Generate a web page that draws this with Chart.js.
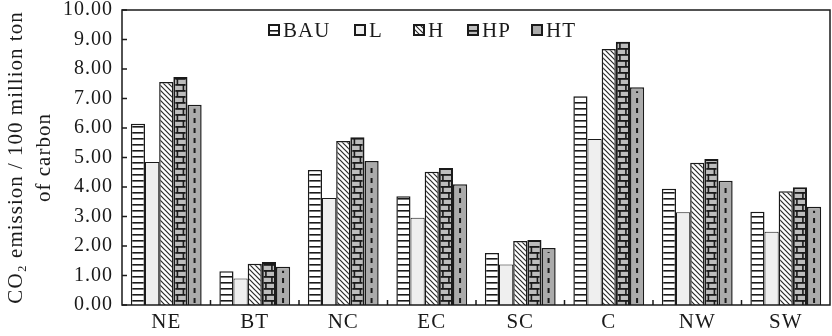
<!DOCTYPE html>
<html>
<head>
<meta charset="utf-8">
<script src="https://cdn.jsdelivr.net/npm/chart.js@4"></script>
<style>
  html, body { margin: 0; padding: 0; background: #fff; }
  #wrap { width: 832px; height: 336px; }
</style>
</head>
<body>
<div id="wrap"><canvas id="co2Chart"></canvas></div>
<script>
const regions = ["NE", "BT", "NC", "EC", "SC", "C", "NW", "SW"];
const bauValues = [6.14, 1.14, 4.58, 3.69, 1.76, 7.08, 3.94, 3.16];
const lValues   = [4.85, 0.90, 3.63, 2.96, 1.37, 5.63, 3.14, 2.48];
const hValues   = [7.56, 1.40, 5.56, 4.52, 2.17, 8.68, 4.82, 3.86];
const hpValues  = [7.73, 1.46, 5.69, 4.64, 2.20, 8.92, 4.95, 3.99];
const htValues  = [6.79, 1.30, 4.88, 4.09, 1.93, 7.38, 4.21, 3.33];
const yTickValues = [0, 1, 2, 3, 4, 5, 6, 7, 8, 9, 10];

const SERIF = "'Liberation Serif', 'DejaVu Serif', serif";
const INK = "#1a1a1a";

function makePattern(w, h, draw) {
    const c = document.createElement("canvas");
    c.width = w;
    c.height = h;
    const g = c.getContext("2d");
    draw(g, w, h);
    return g.createPattern(c, "repeat");
}

// horizontal stripes on white
const stripePattern = makePattern(8, 6, (g, w, h) => {
    g.fillStyle = "#fff";
    g.fillRect(0, 0, w, h);
    g.fillStyle = INK;
    g.fillRect(0, 0, w, 1.6);
});

// "\" hatching on white
const hatchPattern = makePattern(5, 5, (g, w, h) => {
    g.fillStyle = "#fff";
    g.fillRect(0, 0, w, h);
    g.strokeStyle = "#2a2a2a";
    g.lineWidth = 1.2;
    g.beginPath();
    g.moveTo(-1, -1); g.lineTo(w + 1, h + 1);
    g.moveTo(-1, h - 1); g.lineTo(1, h + 1);
    g.moveTo(w - 1, -1); g.lineTo(w + 1, 1);
    g.stroke();
});

// grey brick rows (vertical joints are added per bar)
const brickPattern = makePattern(8, 6, (g, w, h) => {
    g.fillStyle = "#bdbdbd";
    g.fillRect(0, 0, w, h);
    g.fillStyle = INK;
    g.fillRect(0, 0, w, 1.8);
});

const series = [
    { label: "BAU", data: bauValues, fill: stripePattern, border: 1.5 },
    { label: "L",   data: lValues,   fill: "#efefef",     border: 1 },
    { label: "H",   data: hValues,   fill: hatchPattern,  border: 1.5 },
    { label: "HP",  data: hpValues,  fill: brickPattern,  border: 2 },
    { label: "HT",  data: htValues,  fill: "#ababab",     border: 1.5 }
];

// slightly wider text setting; the canvas state resets on resize
const spacing = {
    id: "spacing",
    beforeUpdate(chart) { chart.ctx.letterSpacing = "1px"; },
    beforeDraw(chart) { chart.ctx.letterSpacing = "1px"; }
};

// frame, inward ticks, brick joints, dashed cores and the legend
const decorations = {
    id: "decorations",
    afterDatasetsDraw(chart) {
        const ctx = chart.ctx;
        const area = chart.chartArea;
        const y = chart.scales.y;
        ctx.save();

        // brick joints in HP bars
        chart.getDatasetMeta(3).data.forEach(bar => {
            const top = Math.ceil(bar.y / 6) * 6;
            ctx.strokeStyle = INK;
            ctx.lineWidth = 1.6;
            ctx.beginPath();
            for (let yy = top; yy < bar.base; yy += 6) {
                const off = (yy / 6) % 2 ? -3 : 3;
                ctx.moveTo(bar.x + off, yy);
                ctx.lineTo(bar.x + off, Math.min(yy + 6, bar.base));
            }
            ctx.stroke();
        });

        // dashed core in HT bars
        chart.getDatasetMeta(4).data.forEach(bar => {
            ctx.strokeStyle = INK;
            ctx.lineWidth = 2;
            ctx.setLineDash([5, 5]);
            ctx.beginPath();
            ctx.moveTo(bar.x, bar.base - 2);
            ctx.lineTo(bar.x, bar.y + 4);
            ctx.stroke();
        });
        ctx.setLineDash([]);

        // frame
        ctx.strokeStyle = INK;
        ctx.lineWidth = 1.5;
        ctx.strokeRect(area.left, area.top, area.right - area.left, area.bottom - area.top);

        // inward ticks
        ctx.beginPath();
        yTickValues.forEach(v => {
            const py = y.getPixelForValue(v);
            ctx.moveTo(area.left, py);
            ctx.lineTo(area.left + 5, py);
        });
        const step = (area.right - area.left) / regions.length;
        for (let i = 1; i < regions.length; i++) {
            const px = area.left + i * step;
            ctx.moveTo(px, area.bottom);
            ctx.lineTo(px, area.bottom - 5);
        }
        ctx.stroke();

        // legend
        const slots = [146, 232, 291, 345, 409];
        const ly = area.top + 20;
        ctx.font = "21px " + SERIF;
        ctx.textBaseline = "middle";
        series.forEach((s, i) => {
            const bx = area.left + slots[i];
            ctx.fillStyle = s.fill;
            ctx.fillRect(bx, ly - 6, 12, 12);
            ctx.lineWidth = 2;
            ctx.strokeStyle = INK;
            ctx.strokeRect(bx + 1, ly - 5, 10, 10);
            ctx.fillStyle = INK;
            ctx.fillText(s.label, bx + 15, ly + 1);
        });

        ctx.restore();
    }
};

new Chart(document.getElementById("co2Chart"), {
    type: "bar",
    data: {
        labels: regions,
        datasets: series.map(s => ({
            label: s.label,
            data: s.data,
            backgroundColor: s.fill,
            borderColor: INK,
            borderWidth: s.border,
            categoryPercentage: 0.8,
            barPercentage: 1.0
        }))
    },
    options: {
        responsive: true,
        maintainAspectRatio: false,
        animation: false,
        layout: { padding: { top: 10, right: 2, left: 0, bottom: 0 } },
        plugins: {
            legend: { display: false },
            tooltip: { enabled: false }
        },
        scales: {
            x: {
                grid: { display: false, drawTicks: false },
                border: { display: false },
                ticks: { color: INK, font: { family: SERIF, size: 21 }, padding: 5 },
                afterFit: s => { s.height = 31; }
            },
            y: {
                min: 0,
                max: 10,
                afterBuildTicks: s => { s.ticks = yTickValues.map(v => ({ value: v })); },
                grid: { display: false, drawTicks: false },
                border: { display: false },
                ticks: {
                    color: INK,
                    font: { family: SERIF, size: 20 },
                    padding: 9,
                    callback: v => Number(v).toFixed(2)
                },
                title: {
                    display: true,
                    text: ["CO\u2082 emission / 100 million ton", "of carbon"],
                    color: INK,
                    font: { family: SERIF, size: 21, lineHeight: 1.33 },
                    padding: { top: 3, bottom: 0 }
                },
                afterFit: s => {
                    s.width = 122;
                    s.paddingTop = 0;
                    s.paddingBottom = 0;
                }
            }
        }
    },
    plugins: [spacing, decorations]
});
</script>
</body>
</html>
